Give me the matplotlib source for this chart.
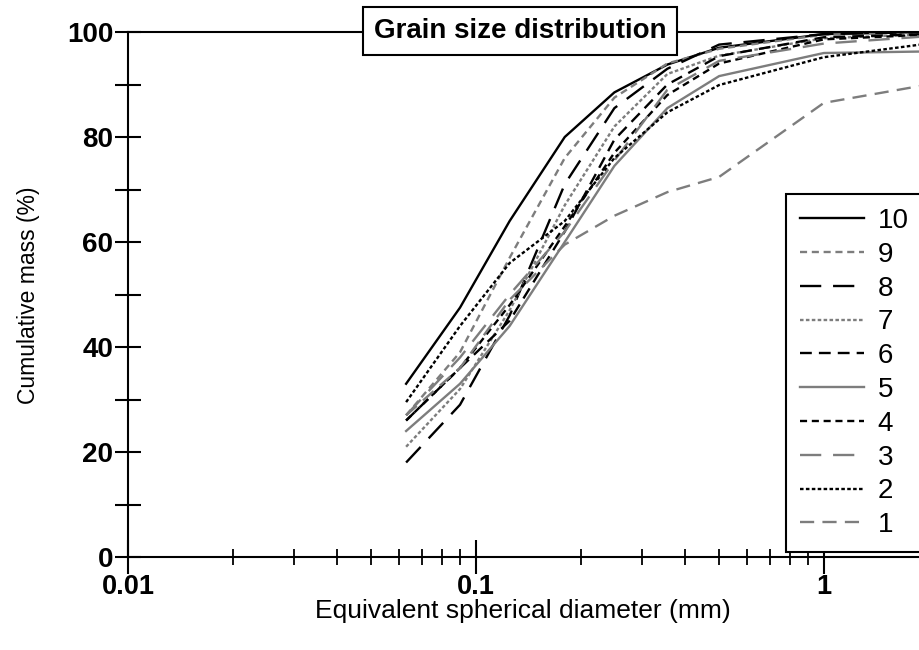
import matplotlib
matplotlib.use("Agg")
import matplotlib.pyplot as plt
from matplotlib.ticker import FixedLocator, NullFormatter

plt.rcParams['font.family'] = ['Liberation Sans', 'DejaVu Sans']

# sieve sizes (mm)
sizes = [0.063, 0.09, 0.125, 0.18, 0.25, 0.355, 0.5, 1, 2]

s10 = [33, 47.5, 64, 80, 88.5, 93.8, 97, 99.6, 100]
s9 = [27, 39, 57, 76, 87.5, 94, 96.8, 99.5, 100]
s8 = [18, 29, 46, 71, 85.5, 93, 97.6, 99.6, 100]
s7 = [21, 32, 47, 67, 82, 92, 95.5, 98.8, 99.6]
s6 = [26, 36, 45, 62, 79.5, 90, 95.4, 99, 99.6]
s5 = [24, 33, 44, 60, 74.5, 85.5, 91.6, 96, 96.3]
s4 = [26, 36, 48, 63, 77, 88, 94, 98.6, 99.5]
s3 = [27, 38, 50, 62, 75.5, 89, 94.5, 97.8, 99.2]
s2 = [29.5, 44, 56, 64, 76, 84.7, 89.9, 95.2, 97.8]
s1 = [27, 36, 49, 59.5, 65, 69.5, 72.4, 86.5, 90]

names = ['10', '9', '8', '7', '6', '5', '4', '3', '2', '1']
series = [s10, s9, s8, s7, s6, s5, s4, s3, s2, s1]

black = '#000000'
gray = '#7d7d7d'
styles = [
    (black, '-'),
    (gray, (0, (3, 2))),
    (black, (0, (9, 5))),
    (gray, (0, (1.5, 1))),
    (black, (0, (5, 3))),
    (gray, '-'),
    (black, (0, (3, 2))),
    (gray, (0, (9, 5))),
    (black, (0, (1.5, 1))),
    (gray, (0, (6, 3.5))),
]

W, H = 920, 650
x0, x1, y0, y1 = 128, 943, 32, 557  # axes box in pixels
fig = plt.figure(figsize=(9.2, 6.5), dpi=100)
ax = fig.add_axes([x0 / W, 1 - y1 / H, (x1 - x0) / W, (y1 - y0) / H])

def fx(px):
    return (px - x0) / (x1 - x0)

def fy(py):
    return (y1 - py) / (y1 - y0)

for name, vals, (col, ls) in zip(names, series, styles):
    ax.plot(sizes, vals, color=col, linestyle=ls, linewidth=1.7, label=name)

ax.set_xscale('log')
ax.set_xlim(0.01, 2.2)
ax.set_ylim(0, 100)

ax.xaxis.set_major_locator(FixedLocator([0.01, 0.1, 1]))
ax.set_xticklabels(['0.01', '0.1', '1'])
minors = [k * 10.0 ** e for e in (-2, -1, 0) for k in range(2, 10)]
ax.xaxis.set_minor_locator(FixedLocator(minors))
ax.xaxis.set_minor_formatter(NullFormatter())
ax.yaxis.set_major_locator(FixedLocator([0, 20, 40, 60, 80, 100]))
ax.yaxis.set_minor_locator(FixedLocator([10, 30, 50, 70, 90]))

ax.tick_params(axis='x', which='major', direction='inout', length=24, width=1.5,
               labelsize=19.5, pad=0)
ax.tick_params(axis='x', which='minor', direction='inout', length=11, width=1.3)
ax.tick_params(axis='y', which='both', direction='inout', length=19, width=1.5,
               labelsize=20, pad=1)
for lab in ax.get_xticklabels() + ax.get_yticklabels():
    lab.set_fontweight('bold')

for sp in ax.spines.values():
    sp.set_linewidth(1.5)

ax.set_xlabel('Equivalent spherical diameter (mm)', fontsize=19)
ax.xaxis.set_label_coords(fx(523), fy(611))
ax.xaxis.label.set_va('center')
ax.set_ylabel('Cumulative mass (%)', fontsize=16.5)
ax.yaxis.set_label_coords(fx(29), fy(295))
ax.yaxis.label.set_va('center')

ax.text(fx(520), fy(31), 'Grain size distribution', transform=ax.transAxes,
        ha='center', va='center', fontsize=20, fontweight='bold',
        bbox=dict(boxstyle='square,pad=0.38', facecolor='white', edgecolor='black', linewidth=1.5),
        zorder=5)

leg = ax.legend(loc='lower left', bbox_to_anchor=(fx(786), fy(552)), borderaxespad=0,
                fontsize=20, handlelength=2.3, handletextpad=0.5,
                labelspacing=0.28, fancybox=False, framealpha=1, borderpad=0.5)
leg.get_frame().set_edgecolor('black')
leg.get_frame().set_linewidth(1.5)

fig.savefig('out.png', dpi=100)
